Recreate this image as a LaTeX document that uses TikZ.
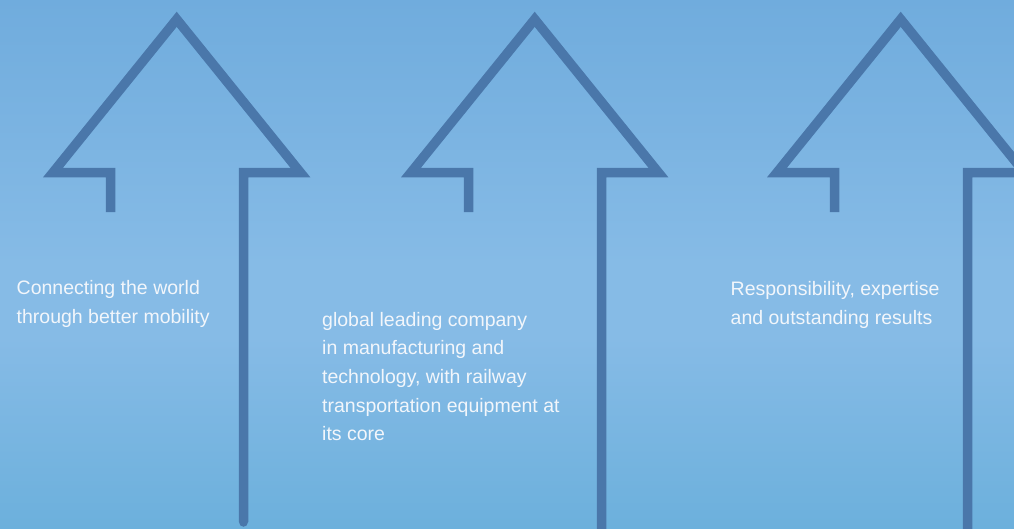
\documentclass[tikz,border=0pt]{standalone}
\usepackage{fontspec}
\setmainfont{Liberation Sans}
\definecolor{bgtop}{RGB}{112,172,221}
\definecolor{bgmid}{RGB}{134,187,230}
\definecolor{bgbot}{RGB}{108,176,220}
\definecolor{arrowblue}{RGB}{74,119,170}
\definecolor{txt}{RGB}{242,246,251}
\pgfdeclareverticalshading{bgshade}{100bp}{color(0bp)=(bgbot); color(25bp)=(bgbot); color(43bp)=(bgmid); color(50bp)=(bgmid); color(75bp)=(bgtop); color(100bp)=(bgtop)}
\tikzset{
  arrowline/.style={draw=arrowblue, line width=9.5pt, miter limit=20, line join=miter},
  label/.style={text=txt, font=\fontsize{19.5}{28.7}\selectfont, align=left, inner sep=0pt, anchor=base west}
}
\begin{document}
\begin{tikzpicture}[x=1pt,y=-1pt]
\useasboundingbox (0,0) rectangle (1014,528);
\begin{scope}
\clip (0,0) rectangle (1014,528);
\shade[shading=bgshade] (0,0) rectangle (1014,528);
\foreach \dx/\e in {0/522, 358/540, 724/540} {
  \begin{scope}[xshift=\dx]
    \draw[arrowline] (110.5,212) -- (110.5,172.5) -- (53,172.5) -- (176.7,19.3) -- (300.4,172.5) -- (243.5,172.5) -- (243.5,\e);
  \end{scope}
}
\draw[arrowline, line cap=round] (243.5,500) -- (243.5,522);
\end{scope}
\node[label] (t1) at (16.5,323.5) {Connecting the world\\through better mobility};
\node[label] (t2) at (322,440.8) {global leading company\\in manufacturing and\\technology, with railway\\transportation equipment at\\its core};
\node[label] (t3) at (730.5,324.3) {Responsibility, expertise\\and outstanding results};
\end{tikzpicture}
\end{document}
